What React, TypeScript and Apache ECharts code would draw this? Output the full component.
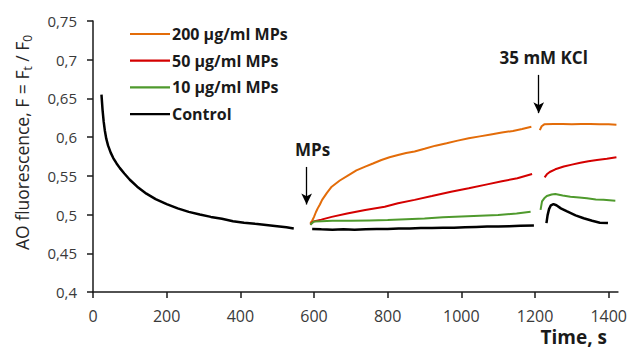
import React, { useEffect, useRef } from 'react';
import * as echarts from 'echarts';

// ---- Data (time in s, relative AO fluorescence F = Ft/F0) ----
const xTicks = [0, 200, 400, 600, 800, 1000, 1200, 1400];

const ctrlPreT = [23, 26, 29, 32, 36, 41, 48, 55, 64, 73, 85, 100, 120, 145, 170, 200, 230, 260, 290, 320, 350, 380, 410, 440, 470, 500, 525, 545];
const ctrlPreV = [0.655, 0.635, 0.62, 0.609, 0.598, 0.589, 0.58, 0.573, 0.566, 0.56, 0.553, 0.545, 0.536, 0.527, 0.52, 0.5135, 0.508, 0.5035, 0.5, 0.497, 0.4945, 0.4915, 0.4895, 0.488, 0.4866, 0.485, 0.4835, 0.482];

const ctrlMidT = [595, 620, 650, 680, 710, 740, 770, 800, 830, 860, 890, 920, 950, 980, 1010, 1040, 1070, 1100, 1130, 1160, 1197];
const ctrlMidV = [0.4815, 0.481, 0.4805, 0.481, 0.4805, 0.481, 0.4815, 0.4815, 0.482, 0.482, 0.4825, 0.4825, 0.483, 0.483, 0.4835, 0.484, 0.4845, 0.4845, 0.485, 0.4855, 0.486];

const ctrlPostT = [1231, 1234, 1238, 1243, 1250, 1258, 1270, 1287, 1310, 1332, 1355, 1376, 1398];
const ctrlPostV = [0.489, 0.499, 0.507, 0.512, 0.5135, 0.512, 0.508, 0.504, 0.499, 0.4952, 0.492, 0.4895, 0.489];

const g10PreT = [590, 600, 620, 650, 700, 750, 800, 850, 900, 950, 1000, 1050, 1100, 1150, 1188];
const g10PreV = [0.487, 0.491, 0.4915, 0.492, 0.492, 0.4925, 0.493, 0.494, 0.495, 0.4965, 0.4975, 0.4985, 0.4995, 0.5015, 0.5037];
const g10PostT = [1215, 1219, 1225, 1232, 1245, 1255, 1275, 1296, 1320, 1341, 1365, 1386, 1418];
const g10PostV = [0.506, 0.517, 0.521, 0.524, 0.526, 0.5265, 0.5245, 0.523, 0.522, 0.521, 0.5195, 0.519, 0.518];

const g50PreT = [590, 595, 599, 620, 648, 690, 739, 792, 828, 873, 920, 972, 1020, 1070, 1110, 1152, 1192];
const g50PreV = [0.487, 0.49, 0.491, 0.4935, 0.497, 0.5015, 0.506, 0.51, 0.5146, 0.519, 0.524, 0.5296, 0.534, 0.539, 0.543, 0.547, 0.5525];
const g50PostT = [1226, 1232, 1240, 1255, 1278, 1300, 1323, 1345, 1368, 1395, 1421];
const g50PostV = [0.548, 0.552, 0.555, 0.5585, 0.562, 0.5645, 0.567, 0.569, 0.5705, 0.572, 0.574];

const g200PreT = [590, 595, 600, 605, 610, 616, 622, 635, 648, 670, 694, 715, 739, 760, 783, 805, 828, 850, 873, 900, 930, 960, 990, 1020, 1050, 1080, 1110, 1140, 1165, 1190];
const g200PreV = [0.489, 0.492, 0.497, 0.503, 0.508, 0.513, 0.519, 0.528, 0.536, 0.544, 0.551, 0.557, 0.562, 0.566, 0.5705, 0.574, 0.577, 0.5795, 0.5815, 0.585, 0.589, 0.592, 0.5955, 0.5985, 0.601, 0.6035, 0.606, 0.608, 0.6105, 0.6135];
const g200PostT = [1213, 1218, 1225, 1250, 1275, 1300, 1325, 1350, 1375, 1400, 1421];
const g200PostV = [0.609, 0.614, 0.6165, 0.617, 0.617, 0.6165, 0.617, 0.617, 0.6165, 0.6165, 0.616];

const legendNames = ['200 μg/ml MPs', '50 μg/ml MPs', '10 μg/ml MPs', 'Control'];
const colors = ['#E36C09', '#D40000', '#4F9A2D', '#000000'];

// annotation arrows: [time, topValue, bottomValue]
const mpsArrow = [580, 0.5615, 0.513];
const kclArrow = [1210, 0.6804, 0.631];

const FONT = '"Open Sans", "Noto Sans", sans-serif';

const pair = (t: number[], v: number[]) => t.map((x, i) => [x, v[i]]);

export default function App() {
  const ref = useRef<HTMLDivElement>(null);
  useEffect(() => {
    document.body.style.margin = '0';
    const chart = echarts.init(ref.current!, null, { renderer: 'svg' });

    const mk = (name: string, color: string, data: number[][], width: number, extra: any = {}) => ({
      type: 'line',
      name,
      data,
      symbol: 'none',
      showSymbol: false,
      silent: true,
      lineStyle: { color, width },
      itemStyle: { color },
      ...extra,
    });

    const arrowLabel = (padLeft: number) => ({
      show: true,
      position: 'start',
      distance: 9,
      formatter: '{b}',
      fontFamily: FONT,
      fontWeight: 'bold',
      fontSize: 17,
      color: '#1a1a1a',
      padding: [0, 0, 0, padLeft],
    });

    const option: any = {
      animation: false,
      grid: { left: 93, right: 8, top: 21, bottom: 57 },
      legend: {
        data: legendNames.map((n, i) => ({ name: n, icon: 'rect', itemStyle: { color: colors[i] } })),
        orient: 'vertical',
        left: 130,
        top: 26,
        padding: 0,
        itemWidth: 40,
        itemHeight: 2.2,
        itemGap: 10.7,
        textStyle: { fontFamily: FONT, fontWeight: 'bold', fontSize: 16, color: '#1a1a1a', lineHeight: 16, padding: [0, 0, 0, -3] },
        selectedMode: false,
      },
      xAxis: {
        type: 'value',
        min: 0,
        max: 1425,
        axisLine: { show: true, lineStyle: { color: '#1a1a1a', width: 1.5 } },
        axisTick: { show: true, customValues: xTicks, length: 6, lineStyle: { color: '#1a1a1a', width: 1.5 } },
        axisLabel: {
          customValues: xTicks,
          fontFamily: FONT,
          fontSize: 16,
          color: '#3a3a3a',
          margin: 16,
          formatter: (v: number) => String(v),
        },
        splitLine: { show: false },
      },
      yAxis: {
        type: 'value',
        min: 0.4,
        max: 0.75,
        interval: 0.05,
        name: 'AO fluorescence, F = F{sub|t} / F{sub|0}',
        nameLocation: 'middle',
        nameRotate: 90,
        nameGap: 60,
        nameTextStyle: {
          fontFamily: FONT,
          fontSize: 17.5,
          color: '#262626',
          padding: [0, 0, 0, 28],
          rich: {
            sub: { fontFamily: FONT, fontSize: 12, color: '#262626', padding: [10, 0, 0, 0] },
          },
        },
        axisLine: { show: true, lineStyle: { color: '#1a1a1a', width: 1.5 } },
        axisTick: { show: true, length: 6, lineStyle: { color: '#1a1a1a', width: 1.5 } },
        axisLabel: {
          fontFamily: FONT,
          fontSize: 15,
          color: '#3a3a3a',
          margin: 16,
          formatter: (v: number) => String(Math.round(v * 100) / 100).replace('.', ','),
        },
        splitLine: { show: false },
      },
      graphic: [
        {
          type: 'text',
          right: 23,
          top: 327,
          style: { text: 'Time, s', fontFamily: FONT, fontWeight: 'bold', fontSize: 19, fill: '#1a1a1a' },
        },
      ],
      series: [
        mk(legendNames[0], colors[0], pair(g200PreT, g200PreV), 2),
        mk(legendNames[0], colors[0], pair(g200PostT, g200PostV), 2),
        mk(legendNames[1], colors[1], pair(g50PreT, g50PreV), 2),
        mk(legendNames[1], colors[1], pair(g50PostT, g50PostV), 2),
        mk(legendNames[2], colors[2], pair(g10PreT, g10PreV), 2),
        mk(legendNames[2], colors[2], pair(g10PostT, g10PostV), 2),
        mk(legendNames[3], colors[3], pair(ctrlPreT, ctrlPreV), 2.5, {
          markLine: {
            silent: true,
            symbol: ['none', 'arrow'],
            symbolSize: [8, 11],
            lineStyle: { color: '#000', width: 1.3, type: 'solid' },
            label: arrowLabel(0),
            data: [
              [
                { coord: [mpsArrow[0], mpsArrow[1]], name: 'MPs', label: arrowLabel(12) },
                { coord: [mpsArrow[0], mpsArrow[2]] },
              ],
              [
                { coord: [kclArrow[0], kclArrow[1]], name: '35 mM KCl', label: arrowLabel(10) },
                { coord: [kclArrow[0], kclArrow[2]] },
              ],
            ],
          },
        }),
        mk(legendNames[3], colors[3], pair(ctrlMidT, ctrlMidV), 2.5),
        mk(legendNames[3], colors[3], pair(ctrlPostT, ctrlPostV), 2.5),
      ],
    };
    chart.setOption(option);
    return () => chart.dispose();
  }, []);
  return <div ref={ref} style={{ width: 630, height: 349 }} />;
}
